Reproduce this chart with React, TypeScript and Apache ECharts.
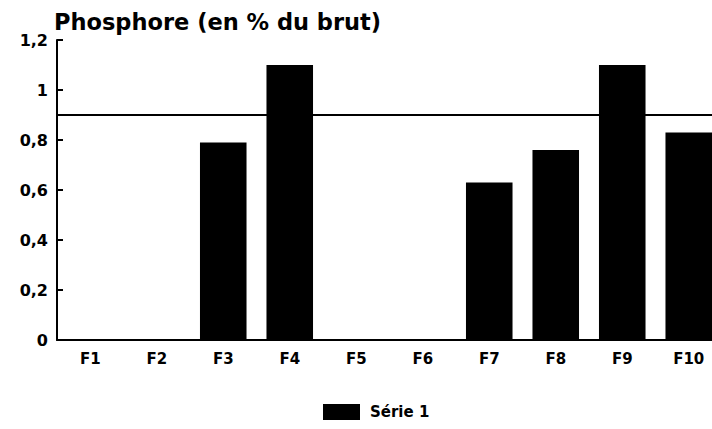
import React, { useEffect, useRef } from "react";
import * as echarts from "echarts";

const categories = ["F1", "F2", "F3", "F4", "F5", "F6", "F7", "F8", "F9", "F10"];
const serie1 = [0, 0, 0.79, 1.1, 0, 0, 0.63, 0.76, 1.1, 0.83];
const referenceLine = 0.9;
const yTicks = { min: 0, max: 1.2, interval: 0.2 };
const titleText = "Phosphore (en % du brut)";
const seriesName = "Série 1";

const FONT = "'DejaVu Sans', 'Liberation Sans', sans-serif";

export default function App() {
  const ref = useRef<HTMLDivElement>(null);
  useEffect(() => {
    if (!ref.current) return;
    const chart = echarts.init(ref.current, undefined, { renderer: "svg" });
    chart.setOption({
      animation: false,
      backgroundColor: "#ffffff",
      title: {
        text: titleText,
        left: 49,
        top: 5,
        textStyle: { fontFamily: FONT, fontWeight: "bold", fontSize: 22.5, color: "#000" },
      },
      legend: {
        data: [seriesName],
        left: 318,
        top: 399,
        itemWidth: 37,
        itemHeight: 16,
        icon: "rect",
        textStyle: { fontFamily: FONT, fontWeight: "bold", fontSize: 15, color: "#000", padding: [0, 0, 0, 5] },
      },
      grid: { left: 57, top: 40, right: 8, bottom: 89, containLabel: false },
      xAxis: {
        type: "category",
        data: categories,
        axisLine: { lineStyle: { color: "#000", width: 2 } },
        axisTick: { alignWithLabel: true, inside: true, length: 8, lineStyle: { color: "#000", width: 2 } },
        axisLabel: { margin: 11, fontFamily: FONT, fontWeight: "bold", fontSize: 15, color: "#000" },
        splitLine: { show: false },
      },
      yAxis: {
        type: "value",
        min: yTicks.min,
        max: yTicks.max,
        interval: yTicks.interval,
        axisLine: { show: true, lineStyle: { color: "#000", width: 2 } },
        axisTick: { show: true, inside: true, length: 6, lineStyle: { color: "#000", width: 2 } },
        axisLabel: {
          margin: 9,
          fontFamily: FONT,
          fontWeight: "bold",
          fontSize: 16,
          color: "#000",
          formatter: (v: number) => String(+v.toFixed(1)).replace(".", ","),
        },
        splitLine: { show: false },
      },
      series: [
        {
          name: seriesName,
          type: "bar",
          data: serie1,
          barWidth: "70%",
          itemStyle: { color: "#000" },
          markLine: {
            silent: true,
            symbol: "none",
            label: { show: false },
            lineStyle: { color: "#000", width: 2, type: "solid" },
            data: [{ yAxis: referenceLine }],
          },
        },
      ],
    });
    return () => chart.dispose();
  }, []);
  return (
    <div
      ref={ref}
      style={{ position: "fixed", left: 0, top: 0, width: 730, height: 429, background: "#fff" }}
    />
  );
}
